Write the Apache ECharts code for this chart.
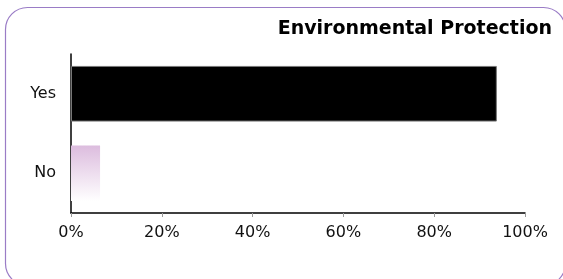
<!DOCTYPE html>
<html>
<head>
<meta charset="utf-8">
<script src="https://cdn.jsdelivr.net/npm/echarts@6/dist/echarts.min.js"></script>
<style>
  html, body { margin: 0; padding: 0; background: #fff; }
  #mychart { width: 563px; height: 279px; }
</style>
</head>
<body>
<div id="mychart"></div>
<script>
"use strict";
const categories = ['Yes', 'No'];
const shares = [93.8, 6.4];
const ticks = [0, 20, 40, 60, 80, 100];

const container = document.getElementById('mychart');
const myChart = echarts.init(container);

const noFill = new echarts.graphic.LinearGradient(0, 0, 0, 1, [
    { offset: 0, color: '#dcbcde' },
    { offset: 1, color: '#ffffff' }
]);

const option = {
    animation: false,
    textStyle: { fontFamily: 'DejaVu Sans' },
    title: {
        text: 'Environmental Protection',
        right: 6,
        top: 15,
        textStyle: { fontSize: 19, fontWeight: 'bold', color: '#000', fontFamily: 'DejaVu Sans' }
    },
    graphic: [
        {
            type: 'rect',
            shape: { x: 5.5, y: 7.5, width: 560, height: 278, r: 22 },
            style: { fill: 'none', stroke: '#9a7cc6', lineWidth: 1.2 },
            silent: true
        }
    ],
    grid: { left: 71, right: 38, top: 54, bottom: 66 },
    xAxis: {
        type: 'value',
        min: ticks[0],
        max: ticks[ticks.length - 1],
        interval: 20,
        axisLine: { show: true, lineStyle: { color: '#000', width: 1.5 } },
        axisTick: { show: true, length: 4, lineStyle: { color: '#999' } },
        splitLine: { show: false },
        axisLabel: { formatter: '{value}%', color: '#111', fontSize: 16, margin: 12 }
    },
    yAxis: {
        type: 'category',
        data: categories,
        inverse: true,
        axisLine: { show: true, lineStyle: { color: '#000', width: 1.5 } },
        axisTick: { show: false },
        axisLabel: { color: '#111', fontSize: 16, margin: 15 }
    },
    series: [
        {
            type: 'bar',
            barCategoryGap: '30%',
            data: [
                { value: shares[0], itemStyle: { color: '#000', borderColor: '#777', borderWidth: 1 } },
                { value: shares[1], itemStyle: { color: noFill } }
            ]
        }
    ]
};
myChart.setOption(option);
</script>
</body>
</html>
